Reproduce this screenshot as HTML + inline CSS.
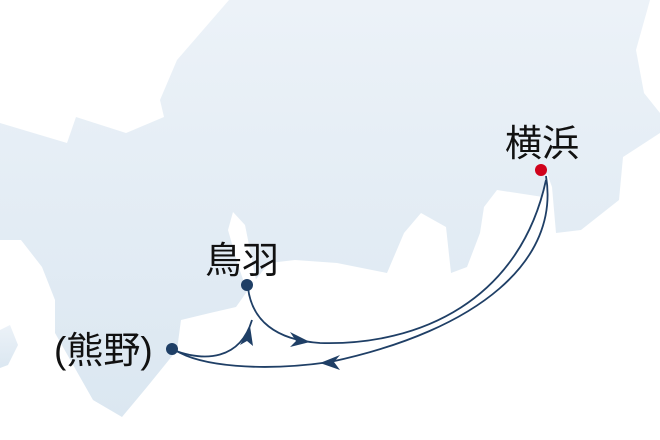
<!DOCTYPE html>
<html><head><meta charset="utf-8"><style>
html,body{margin:0;padding:0;background:#fff;}
svg{display:block}
text{font-family:"Liberation Sans","Noto Sans CJK JP",sans-serif;fill:#111;font-size:37px}
</style></head><body>
<svg width="660" height="440" viewBox="0 0 660 440">
<defs><linearGradient id="g" x1="0" y1="0" x2="0" y2="1"><stop offset="0" stop-color="#ecf2f8"/><stop offset="1" stop-color="#dbe7f1"/></linearGradient></defs>
<path fill="url(#g)" d="M229,0 L650,0 L636,50 L644,93 L660,113 L660,133 L623,157 L619,200 L581,230 L556,233 L552,187 L547,173 L543,197 L497,190 L484,207 L480,233 L467,267 L451,273 L446,227 L421,213 L404,233 L387,273 L337,263 L295,260 L269,263 L253,283 L236,307 L210,313 L181,320 L177,350 L147,387 L122,417 L93,400 L55,333 L55,300 L42,267 L21,240 L0,240 L0,123 L67,143 L76,117 L126,133 L164,117 L160,100 L177,60 Z"/>
<path fill="#fff" d="M233,212 L245,225 L252,260 L256,280 L246,288 L238,265 L228,230 Z"/>
<path fill="url(#g)" d="M0,330 L10,325 L18,345 L8,365 L0,368 Z"/>
<g fill="none" stroke="#1f3f66" stroke-width="1.8">
<path d="M546,176 C560,260 480,330 330,362 C260,372 200,366 175,350"/>
<path d="M248,288 C252,320 275,340 320,343 C420,346 520,300 546,180"/>
<path d="M173,350 C205,362 240,360 252,320"/>
</g>
<g fill="#1f3f66">
<polygon points="290,332 310,342 290,347 296,341"/>
<polygon points="340,355 320,363 340,370 334,362"/>
<polygon points="250,326 240,345 247,341 253,346"/>
<ellipse cx="247" cy="285" rx="6" ry="6"/>
<ellipse cx="172" cy="349" rx="6" ry="6"/>
</g>
<circle cx="541" cy="170" r="6" fill="#d0021b"/>
<text x="505" y="156">横浜</text>
<text x="205" y="273">鳥羽</text>
<text x="54" y="363">(熊野)</text>
</svg>
</body></html>
